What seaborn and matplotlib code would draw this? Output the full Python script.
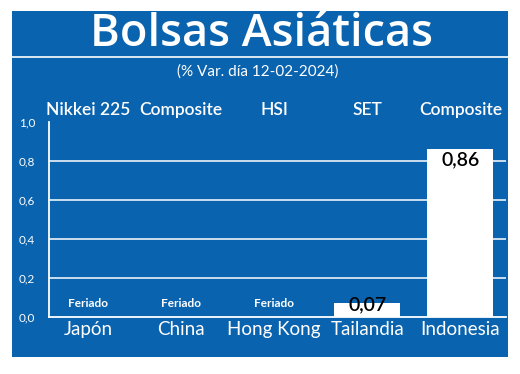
import matplotlib
matplotlib.use("Agg")
import matplotlib.pyplot as plt
import seaborn as sns
import pandas as pd
import numpy as np
from matplotlib.patches import Rectangle
from matplotlib.lines import Line2D

countries = ["Japón", "China", "Hong Kong", "Tailandia", "Indonesia"]
indices = ["Nikkei 225", "Composite", "HSI", "SET", "Composite"]
values = [np.nan, np.nan, np.nan, 0.07, 0.86]
value_labels = ["Feriado", "Feriado", "Feriado", "0,07", "0,86"]
yticks = [0.0, 0.2, 0.4, 0.6, 0.8, 1.0]
ytick_labels = ["0,0", "0,2", "0,4", "0,6", "0,8", "1,0"]

BLUE = "#0a63ae"
W, H = 520, 374

sns.set_theme(style="white")
plt.rcParams['font.family'] = ['Lato', 'DejaVu Sans']

fig = plt.figure(figsize=(W/100, H/100), dpi=100)
fig.patch.set_facecolor("white")

def fx(x): return x / W
def fy(y): return 1 - y / H

fig.patches.append(Rectangle((fx(12), fy(357)), fx(508) - fx(12), fy(11) - fy(357),
                             transform=fig.transFigure, facecolor=BLUE, edgecolor="none", zorder=-10))
fig.lines.append(Line2D([fx(12), fx(508)], [fy(57), fy(57)], transform=fig.transFigure,
                        color="white", lw=1.2, zorder=-5))

fig.text(fx(262), fy(34), "Bolsas Asiáticas", color="white", fontsize=32.5,
         ha="center", va="center", family=['Open Sans', 'DejaVu Sans'], weight="semibold")
fig.text(fx(258), fy(72), "(% Var. día 12-02-2024)", color="white", fontsize=11,
         ha="center", va="center")

ax = fig.add_axes([fx(49), fy(317), fx(506) - fx(49), fy(122) - fy(317)])
ax.set_facecolor("none")
ax.set_zorder(1)

df = pd.DataFrame({"pais": countries, "var": values})
sns.barplot(data=df, x="pais", y="var", order=countries, color="white",
            width=0.71, saturation=1, ax=ax, zorder=3, edgecolor="none")

ax.set_xlim(-0.42, 4.49)
ax.set_ylim(0, 1.0)
for t in yticks[1:-1]:
    ax.axhline(t, color="white", lw=1.1, zorder=1)

for s in ["top", "right"]:
    ax.spines[s].set_visible(False)
for s in ["left", "bottom"]:
    ax.spines[s].set_color("white")
    ax.spines[s].set_linewidth(1.3)

ax.set_yticks(yticks)
ax.set_yticklabels(ytick_labels, color="white", fontsize=8.5)
ax.tick_params(axis="y", length=0, pad=10)
ax.tick_params(axis="x", length=0, pad=3)
ax.set_xticks(range(len(countries)))
ax.set_xticklabels(countries, color="white", fontsize=13.5)
ax.set_xlabel("")
ax.set_ylabel("")

for i, (v, lab, idx) in enumerate(zip(values, value_labels, indices)):
    ax.text(i, 1.06, idx, color="white", fontsize=12.5, ha="center", va="center",
            clip_on=False, weight="semibold")
    if np.isnan(v):
        ax.text(i, 0.07, lab, color="white", fontsize=8.5, ha="center", va="center",
                weight="bold")
    else:
        if v > 0.3:
            ax.text(i, v - 0.008, lab, color="black", fontsize=14, ha="center", va="top",
                    zorder=5, weight="semibold")
        else:
            ax.text(i, v - 0.005, lab, color="black", fontsize=14, ha="center", va="center",
                    zorder=5, weight="semibold")

fig.savefig("out.png", dpi=100)
